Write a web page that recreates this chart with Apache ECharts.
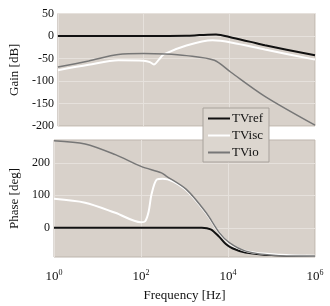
<!DOCTYPE html>
<html>
<head>
<meta charset="utf-8">
<script src="https://cdn.jsdelivr.net/npm/echarts@6/dist/echarts.min.js"></script>
<style>
  html, body { margin: 0; padding: 0; background: #fff; }
  #chart { width: 330px; height: 306px; }
</style>
</head>
<body>
<div id="chart"></div>
<script>
// Frequency axis ticks (Hz)
const freqTicks = [1, 100, 10000, 1000000]
const gainTicks = [50, 0, -50, -100, -150, -200]
const phaseTicks = [0, 100, 200]

// Gain [dB] curves, [frequency Hz, value]
const gainRef = [[1, 0], [100, 0], [1000, 0.5], [2000, 2], [4900, 3.5], [11700, -3.7], [31600, -13], [68000, -20.7], [1000000, -43]]
const gainIsc = [[1, -76], [5.2, -64], [25.7, -54], [100, -55], [140, -58], [174, -63.5], [230, -52], [295, -41], [1000, -21], [4070, -9.5], [11700, -14.8], [67600, -30], [1000000, -52.5]]
const gainIo = [[1, -69], [5.2, -55.5], [25.7, -41], [100, -39], [316, -40], [1000, -43.6], [4470, -54], [10700, -80], [67600, -134], [1000000, -198]]

// Phase [deg] curves
const phaseRef = [[1, 0], [2500, 0], [4000, -5], [6300, -28], [8900, -50], [12600, -63], [25000, -76], [100000, -84], [1000000, -87]]
const phaseIsc = [[1, 89], [5.2, 77], [25.7, 46], [100, 17], [125, 20], [150, 50], [174, 102], [229, 148], [316, 151], [1000, 120], [3160, 44], [6300, -16], [10700, -48], [28200, -73], [158000, -83], [1000000, -86]]
const phaseIo = [[1, 268], [5.2, 258], [25.7, 225], [100, 189], [295, 169], [380, 159], [1100, 118], [3160, 46], [6300, -15], [10700, -46], [25700, -72], [126000, -85], [1000000, -87]]

const names = ['TVref', 'TVisc', 'TVio']
const colors = ['#111111', '#ffffff', '#777777']
const widths = [2, 2, 1.5]

const chart = echarts.init(document.getElementById('chart'), null, { renderer: 'canvas' })

const font = 'Liberation Serif'
const textColor = '#111'
const bg = '#d8d1ca'

function xAxisFor(gridIndex, showLabels) {
  return {
    type: 'log',
    logBase: 10,
    gridIndex: gridIndex,
    min: 1,
    max: 1000000,
    axisLine: { show: false },
    axisTick: { show: false, customValues: freqTicks },
    splitLine: { show: true, lineStyle: { color: '#e6e1dc', width: 1 } },
    axisLabel: {
      show: showLabels,
      customValues: freqTicks,
      margin: 12,
      fontFamily: font,
      fontSize: 13,
      color: textColor,
      formatter: function (v) {
        const e = Math.round(Math.log10(v))
        return '{b|10}{s|' + e + '}'
      },
      rich: {
        b: { fontFamily: font, fontSize: 13, color: textColor },
        s: { fontFamily: font, fontSize: 8, color: textColor, verticalAlign: 'top', padding: [0, 0, 8, 0] }
      }
    },
    name: showLabels ? 'Frequency [Hz]' : '',
    nameLocation: 'middle',
    nameGap: 32,
    nameTextStyle: { fontFamily: font, fontSize: 13, color: textColor }
  }
}

function makeSeries(data, i, xi, yi) {
  return {
    name: names[i],
    type: 'line',
    xAxisIndex: xi,
    yAxisIndex: yi,
    data: data,
    smooth: 0.3,
    showSymbol: false,
    symbol: 'none',
    animation: false,
    lineStyle: { color: colors[i], width: widths[i] },
    itemStyle: { color: colors[i] },
    z: 2 + i
  }
}

const option = {
  backgroundColor: '#fff',
  animation: false,
  grid: [
    { left: 52, top: 13.5, width: 263, height: 112.5, show: true, backgroundColor: bg, borderColor: '#bdb5ad', borderWidth: 1 },
    { left: 52, top: 140, width: 263, height: 117, show: true, backgroundColor: bg, borderColor: '#bdb5ad', borderWidth: 1 }
  ],
  legend: {
    data: names.map((n, i) => ({ name: n, itemStyle: { color: colors[i] }, lineStyle: { color: colors[i], width: widths[i] } })),
    orient: 'vertical',
    left: 203,
    top: 108,
    itemWidth: 22,
    itemHeight: 2,
    itemGap: 4,
    padding: [4, 6, 3, 5],
    backgroundColor: '#dcd6cf',
    borderColor: '#a8a29c',
    borderWidth: 1,
    icon: 'rect',
    selectedMode: false,
    textStyle: { fontFamily: font, fontSize: 13, color: textColor, padding: [0, 0, 0, -3] },
    z: 10
  },
  xAxis: [xAxisFor(0, false), xAxisFor(1, true)],
  yAxis: [
    {
      type: 'value',
      gridIndex: 0,
      min: -200,
      max: 50,
      interval: 50,
      axisLine: { show: false },
      axisTick: { show: false },
      splitLine: { show: true, lineStyle: { color: '#e6e1dc', width: 1 } },
      axisLabel: { fontFamily: font, fontSize: 12, color: textColor, margin: 4 },
      name: 'Gain [dB]',
      nameLocation: 'middle',
      nameGap: 33,
      nameTextStyle: { fontFamily: font, fontSize: 13, color: textColor }
    },
    {
      type: 'value',
      gridIndex: 1,
      min: -90,
      max: 270,
      axisLine: { show: false },
      axisTick: { show: false, customValues: phaseTicks },
      splitLine: { show: true, lineStyle: { color: '#e6e1dc', width: 1 } },
      axisLabel: { customValues: phaseTicks, fontFamily: font, fontSize: 12, color: textColor, margin: 4 },
      name: 'Phase [deg]',
      nameLocation: 'middle',
      nameGap: 33,
      nameTextStyle: { fontFamily: font, fontSize: 13, color: textColor }
    }
  ],
  series: [
    makeSeries(gainRef, 0, 0, 0),
    makeSeries(gainIsc, 1, 0, 0),
    makeSeries(gainIo, 2, 0, 0),
    makeSeries(phaseRef, 0, 1, 1),
    makeSeries(phaseIsc, 1, 1, 1),
    makeSeries(phaseIo, 2, 1, 1)
  ]
}

chart.setOption(option)
</script>
</body>
</html>
